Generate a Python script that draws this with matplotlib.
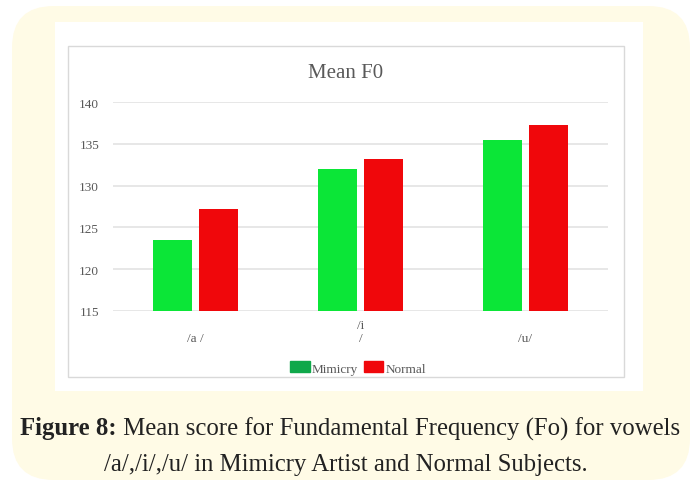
import matplotlib.pyplot as plt
import numpy as np
from matplotlib.patches import FancyBboxPatch, Rectangle, Patch

vowels = ["/a /", "/i\n/", "/u/"]
mimicry = [123.5, 132.0, 135.4]
normal = [127.2, 133.2, 137.2]

green = "#0be637"
red = "#f0070b"
grey_text = "#595959"

fig = plt.figure(figsize=(6.93, 4.85), dpi=100)
fig.patch.set_facecolor("white")
W, H = 693, 485


def box(x0, y0, x1, y1):
    # pixel box (top-left origin) -> figure fractions
    return x0 / W, 1 - y1 / H, (x1 - x0) / W, (y1 - y0) / H


# cream card behind everything
l, b, w, h = box(12, 7, 690, 481)
fig.patches.append(FancyBboxPatch((l, b), w, h, boxstyle="round,pad=0,rounding_size=0.06",
                                  transform=fig.transFigure, facecolor="#fffbe6",
                                  edgecolor="none", mutation_aspect=W / H, zorder=0))
l, b, w, h = box(55, 23, 643, 392)
fig.patches.append(Rectangle((l, b), w, h, transform=fig.transFigure,
                             facecolor="white", edgecolor="none", zorder=1))
l, b, w, h = box(68, 47, 624, 378)
fig.patches.append(Rectangle((l, b), w, h, transform=fig.transFigure,
                             facecolor="white", edgecolor="#d9d9d9", lw=1, zorder=2))

ax = fig.add_axes(box(113, 103, 608, 312))
ax.set_zorder(3)
ax.patch.set_alpha(0)

x = np.arange(len(vowels))
bw = 0.235
gap = 0.04
ax.bar(x - (bw + gap) / 2, np.array(mimicry) - 115, bw, bottom=115, color=green, zorder=3)
ax.bar(x + (bw + gap) / 2, np.array(normal) - 115, bw, bottom=115, color=red, zorder=3)

ax.set_xlim(-0.5, 2.5)
ax.set_ylim(115, 140)
ax.set_yticks([115, 120, 125, 130, 135, 140])
ax.yaxis.grid(True, color="#e3e3e3", lw=1.2, zorder=0)
for s in ax.spines.values():
    s.set_visible(False)
ax.tick_params(length=0, colors=grey_text, labelsize=9.5)
ax.tick_params(axis="y", pad=10)
for t in ax.get_yticklabels():
    t.set_fontfamily("Liberation Serif")

ax.set_xticks(x)
ax.set_xticklabels(vowels, fontfamily="Liberation Serif", fontsize=9.5,
                   color=grey_text, va="bottom", linespacing=1.2)
ax.tick_params(axis="x", pad=24)

fig.text(346 / W, 1 - 73 / H, "Mean F0", ha="center", va="center",
         fontfamily="Liberation Serif", fontsize=15, color=grey_text)

handles = [Patch(color="#0fa84a"), Patch(color=red)]
fig.legend(handles, ["Mimicry", "Normal"], loc="center", bbox_to_anchor=(358 / W, 1 - 369 / H),
           ncol=2, frameon=False, handlelength=1.5, handleheight=0.9, handletextpad=0.15,
           columnspacing=0.4, prop={"family": "Liberation Serif", "size": 9.5},
           labelcolor=grey_text)

# caption: bold lead-in followed by regular text on the same line
cap_font = "Liberation Serif"
cap_size = 15
cap_color = "#222222"
y1 = 1 - 429 / H
lead = fig.text(20 / W, y1, "Figure 8:", ha="left", va="center", fontfamily=cap_font,
                fontsize=cap_size, fontweight="bold", color=cap_color)
rest = fig.text(0, y1, " Mean score for Fundamental Frequency (Fo) for vowels",
                ha="left", va="center", fontfamily=cap_font, fontsize=cap_size, color=cap_color)
r = fig.canvas.get_renderer()
total = lead.get_window_extent(r).width + rest.get_window_extent(r).width
size = cap_size * 662 / total
lead.set_fontsize(size)
rest.set_fontsize(size)
lead_w = lead.get_window_extent(r).width
rest.set_x((20 + lead_w) / W)
fig.text(346 / W, 1 - 465 / H, "/a/,/i/,/u/ in Mimicry Artist and Normal Subjects.",
         ha="center", va="center", fontfamily=cap_font, fontsize=size, color=cap_color)

fig.savefig("out.png", dpi=100)
